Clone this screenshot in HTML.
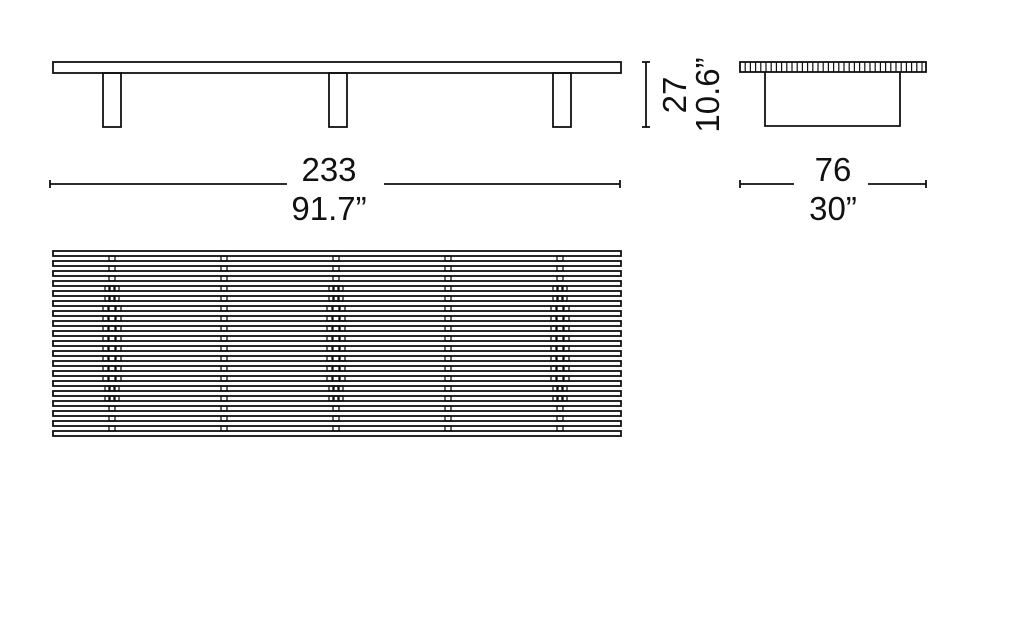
<!DOCTYPE html>
<html><head><style>
html,body{margin:0;padding:0;background:#fff;}
svg{display:block}
text{font-family:"Liberation Sans",sans-serif;fill:#111}
</style></head><body>
<svg id="s" width="1024" height="622" viewBox="0 0 1024 622" xmlns="http://www.w3.org/2000/svg">
<g fill="none" stroke="#111" stroke-width="1.8">
<rect x="53" y="62" width="568" height="11"/>
<rect x="103" y="73" width="18" height="54"/>
<rect x="329" y="73" width="18" height="54"/>
<rect x="553" y="73" width="18" height="54"/>
<line x1="646" y1="62" x2="646" y2="127"/>
<line x1="642" y1="62" x2="650" y2="62"/>
<line x1="642" y1="127" x2="650" y2="127"/>
<rect x="740" y="62" width="186" height="10"/>
<polyline points="765,72 765,126 900,126 900,72"/>
<line x1="50" y1="184" x2="287" y2="184"/>
<line x1="384" y1="184" x2="620" y2="184"/>
<line x1="50" y1="180" x2="50" y2="188"/>
<line x1="620" y1="180" x2="620" y2="188"/>
<line x1="740" y1="184" x2="794" y2="184"/>
<line x1="868" y1="184" x2="926" y2="184"/>
<line x1="740" y1="180" x2="740" y2="188"/>
<line x1="926" y1="180" x2="926" y2="188"/>
<g id="g"></g>
</g>
<text x="329" y="181" font-size="33" text-anchor="middle">233</text>
<text x="329" y="220" font-size="33" text-anchor="middle">91.7”</text>
<text x="833" y="181" font-size="33" text-anchor="middle">76</text>
<text x="833" y="220" font-size="33" text-anchor="middle">30”</text>
<text transform="translate(686,95) rotate(-90)" font-size="33" text-anchor="middle">27</text>
<text transform="translate(719,95) rotate(-90)" font-size="33" text-anchor="middle">10.6”</text>
</svg>
<script>
var g=document.getElementById('g'),h='';
for(var x=740;x<926;x+=5.2){h+='<line x1="'+x.toFixed(1)+'" y1="62" x2="'+x.toFixed(1)+'" y2="72" stroke-width="1.2"/>';}
for(var i=0;i<19;i++){h+='<rect x="53" y="'+(251+10*i)+'" width="568" height="5"/>';}
var cs=[112,224,336,448,560];
for(var j=0;j<18;j++){var y=256+10*j;
 cs.forEach(function(c,k){h+='<rect x="'+(c-3)+'" y="'+y+'" width="6" height="5" stroke-width="1.3"/>';
  if(k%2==0&&j>=3&&j<=14){var off=(j>=5&&j<=12)?6:4;
   h+='<rect x="'+(c-3-off)+'" y="'+y+'" width="5" height="5" stroke-width="1.3"/>';
   h+='<rect x="'+(c+3+off-5)+'" y="'+y+'" width="5" height="5" stroke-width="1.3"/>';}
 });}
g.innerHTML=h;
</script>
</body></html>
